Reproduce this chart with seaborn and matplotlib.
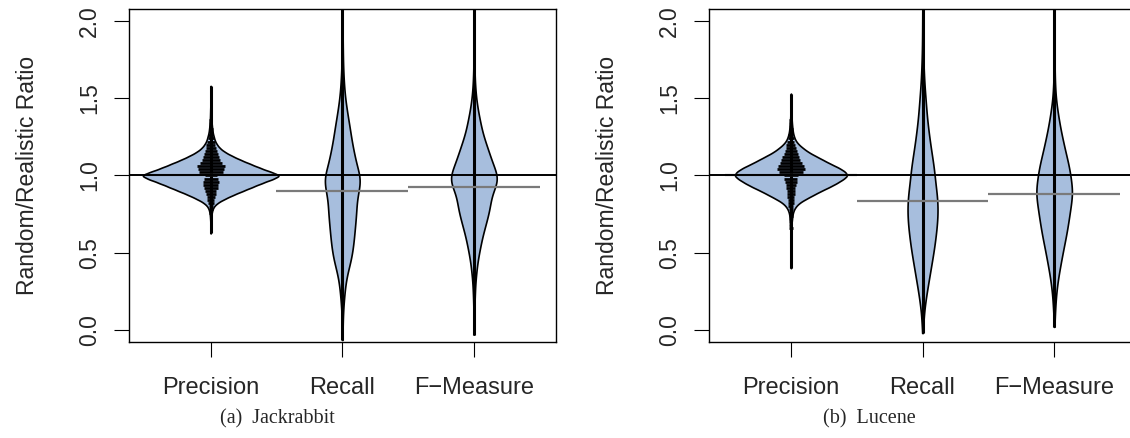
import numpy as np
import pandas as pd
import matplotlib
matplotlib.use("Agg")
import matplotlib.pyplot as plt
import seaborn as sns

metrics = ["Precision", "Recall", "F\u2212Measure"]
y_ticks = [0.0, 0.5, 1.0, 1.5, 2.0]
y_tick_labels = ["0.0", "0.5", "1.0", "1.5", "2.0"]
captions = ["(a)  Jackrabbit", "(b)  Lucene"]
ref_line = 1.0

# bean shapes: value grid + bean half-width (px) at each value,
# plus the few stray points that stretch the black line out past the bean
jr_prec_y = np.arange(0.7, 1.451, 0.025)
jr_prec_w = [0.3, 0.5, 0.8, 1.5, 3, 7, 14, 22, 31, 40,
             49, 59, 68, 57, 47, 38, 29, 21, 14, 9,
             6, 4, 3, 2, 1.5, 1.1, 0.8, 0.6, 0.5, 0.4, 0.3]
jr_prec_tail = [0.625, 0.65, 1.5, 1.58]

jr_rec_y = np.arange(-0.05, 2.101, 0.05)
jr_rec_w = [0.2, 0.3, 0.4, 0.6, 1.0, 1.6, 2.2, 3.0, 4.2, 6.0, 8.0,
            9.3, 10.3, 11.0, 11.7, 12.3, 13.0, 13.3, 13.7, 15.3, 17.0,
            16.8, 14.0, 12.5, 10.8, 9.5, 8.2, 7.2, 6.0, 4.8, 3.7,
            2.7, 2.0, 1.5, 1.1, 0.8, 0.6, 0.5, 0.4, 0.3, 0.3, 0.2, 0.2, 0.2]
jr_rec_tail = [-0.065, 2.2]

jr_f_y = np.arange(0.0, 2.101, 0.05)
jr_f_w = [0.3, 0.3, 0.4, 0.5, 0.7, 1.0, 1.3, 2.0, 2.7, 3.7,
          5.0, 6.5, 8.0, 10.0, 12.0, 14.0, 15.5, 16.5, 18.7, 22.5,
          22.8, 19.8, 17.0, 14.5, 12.0, 9.5, 7.5, 6.0, 4.5, 3.2,
          2.2, 1.5, 1.0, 0.7, 0.5, 0.4, 0.3, 0.3, 0.3, 0.2, 0.2, 0.2, 0.2]
jr_f_tail = [-0.03, 2.2]

lu_prec_y = np.arange(0.7, 1.451, 0.025)
lu_prec_w = [0.8, 1.1, 1.6, 2.6, 4.7, 8.5, 15, 22, 29, 37,
             44, 50, 55, 52, 46, 38, 31, 24, 17, 12,
             7.5, 4.5, 3, 2, 1.5, 1.1, 0.8, 0.6, 0.5, 0.4, 0.3]
lu_prec_tail = [0.40, 0.5, 0.6, 0.65, 1.5, 1.53]

lu_rec_y = np.arange(0.0, 2.101, 0.05)
lu_rec_w = [0.4, 0.7, 1.1, 1.8, 2.7, 3.7, 4.8, 5.9, 7.0, 8.1,
            9.2, 10.2, 11.0, 11.8, 12.4, 12.8, 12.8, 12.5, 11.8, 10.8,
            10.3, 9.6, 8.6, 7.6, 6.6, 5.7, 4.9, 4.1, 3.5, 3.0,
            2.5, 2.0, 1.5, 1.2, 0.9, 0.7, 0.5, 0.4, 0.3, 0.3, 0.2, 0.2, 0.2]
lu_rec_tail = [-0.02, 2.2]

lu_f_y = np.arange(0.05, 2.101, 0.05)
lu_f_w = [0.4, 0.6, 1.0, 1.4, 2.0, 2.8, 3.8, 5.0, 6.2,
          7.5, 8.8, 10.2, 11.4, 12.5, 13.5, 14.5, 15.5, 16.0, 15.2,
          14.3, 13.2, 11.7, 10.0, 8.5, 7.0, 5.6, 4.4, 3.3, 2.3,
          1.5, 1.0, 0.7, 0.5, 0.4, 0.35, 0.3, 0.3, 0.3, 0.2, 0.2, 0.2, 0.2]
lu_f_tail = [0.02, 2.2]

# stacked bean lines on the precision beans: value + half-length (px)
jr_dash_y = np.arange(0.76, 1.361, 0.02)
jr_dash_h = [1.5, 2, 2, 3, 3.5, 4, 5, 5.5, 7, 7.5,
             8, 7, 6, 12, 13, 14, 11, 9, 8, 7,
             6, 5, 4.5, 4, 3, 2.5, 2, 2, 1.5, 1.5, 1.5]
lu_dash_y = np.arange(0.66, 1.361, 0.02)
lu_dash_h = [2, 1.5, 1.5, 1.5, 1.8, 2, 2, 2.5, 3, 3,
             3.5, 4, 4, 4.5, 5, 6, 6.5, 7, 12, 14,
             13, 11, 9.5, 8.5, 7, 6, 5, 4.5, 3.5, 3,
             2.5, 2, 2, 1.5, 1.5, 1.5]

# bean averages (grey lines)
jr_means = [1.0, 0.90, 0.928]
lu_means = [1.0, 0.837, 0.88]

panels = [
    dict(beans=[(jr_prec_y, jr_prec_w, jr_prec_tail, 0.025),
                (jr_rec_y, jr_rec_w, jr_rec_tail, 0.05),
                (jr_f_y, jr_f_w, jr_f_tail, 0.05)],
         dash=(jr_dash_y, jr_dash_h), means=jr_means, width=1.03),
    dict(beans=[(lu_prec_y, lu_prec_w, lu_prec_tail, 0.025),
                (lu_rec_y, lu_rec_w, lu_rec_tail, 0.05),
                (lu_f_y, lu_f_w, lu_f_tail, 0.05)],
         dash=(lu_dash_y, lu_dash_h), means=lu_means, width=0.85),
]

fill = "#a7bedd"

sns.set_style("ticks")
plt.rcParams["font.family"] = ["Liberation Sans", "DejaVu Sans"]

fig = plt.figure(figsize=(11.3, 4.38), dpi=100)
axes = [fig.add_axes([0.1142, 0.2185, 0.3774, 0.7603]),
        fig.add_axes([0.6277, 0.2185, 0.3774, 0.7603])]

for ax, panel in zip(axes, panels):
    rows = []
    for i, (ys, ws, tail, step) in enumerate(panel["beans"]):
        ws = np.asarray(ws, dtype=float)
        assert len(ys) == len(ws)
        counts = np.maximum(1, np.round(ws * step * 400)).astype(int)
        vals = np.concatenate([np.repeat(ys, counts), tail])
        rows.append(pd.DataFrame({"metric": metrics[i], "ratio": vals}))
    df = pd.concat(rows, ignore_index=True)

    dash_y, dash_h = panel["dash"]
    dash_h = np.asarray(dash_h, dtype=float)
    assert len(dash_y) == len(dash_h)
    dash_df = pd.DataFrame({"pos": 0, "y": dash_y, "h2": dash_h ** 2})

    sns.violinplot(data=df, x="metric", y="ratio", order=metrics, color=fill,
                   saturation=1, linecolor="black", linewidth=1.2, inner=None,
                   cut=0, bw_method=0.15, density_norm="area", common_norm=True,
                   gridsize=400, width=panel["width"], ax=ax)

    pos = np.arange(len(metrics))
    lo = df.groupby("metric")["ratio"].min().reindex(metrics).values
    hi = df.groupby("metric")["ratio"].max().reindex(metrics).values
    ax.vlines(pos, lo, hi, color="black", lw=2.2, zorder=3)

    # '_' marker length in pt = sqrt(s); half-length h px -> s = (1.44 h)^2
    hmax = dash_h.max()
    sns.scatterplot(data=dash_df, x="pos", y="y", size="h2",
                    sizes=(0, (1.44 * hmax) ** 2), size_norm=(0, hmax ** 2),
                    marker="_", color="black", linewidth=2.0, legend=False,
                    ax=ax, zorder=4)

    ax.hlines(panel["means"], pos - 0.5, pos + 0.5, color="#7a7a7a", lw=1.6, zorder=5)
    ax.axhline(ref_line, color="black", lw=1.4, zorder=6)

    ax.set_xlim(-0.62, 2.62)
    ax.set_ylim(-0.08, 2.076)
    ax.set_xticks(pos, metrics)
    ax.set_yticks(y_ticks, y_tick_labels)
    ax.set_xlabel("")
    ax.set_ylabel("Random/Realistic Ratio", fontsize=16.5, labelpad=28)
    ax.tick_params(axis="both", direction="out", length=10.8, width=0.8, color="black")
    ax.tick_params(axis="x", labelsize=17, pad=14)
    ax.tick_params(axis="y", labelsize=16.5, pad=9.5)
    for lbl in ax.get_yticklabels():
        lbl.set_rotation(90)
        lbl.set_va("center")
    for sp in ax.spines.values():
        sp.set_visible(True)
        sp.set_color("black")
        sp.set_linewidth(1.0)

fig.text(277 / 1130, 15 / 438, captions[0], ha="center", va="baseline",
         fontsize=14.5, family=["Liberation Serif", "DejaVu Serif"])
fig.text(869 / 1130, 15 / 438, captions[1], ha="center", va="baseline",
         fontsize=14.5, family=["Liberation Serif", "DejaVu Serif"])

fig.savefig("out.png", dpi=100)
